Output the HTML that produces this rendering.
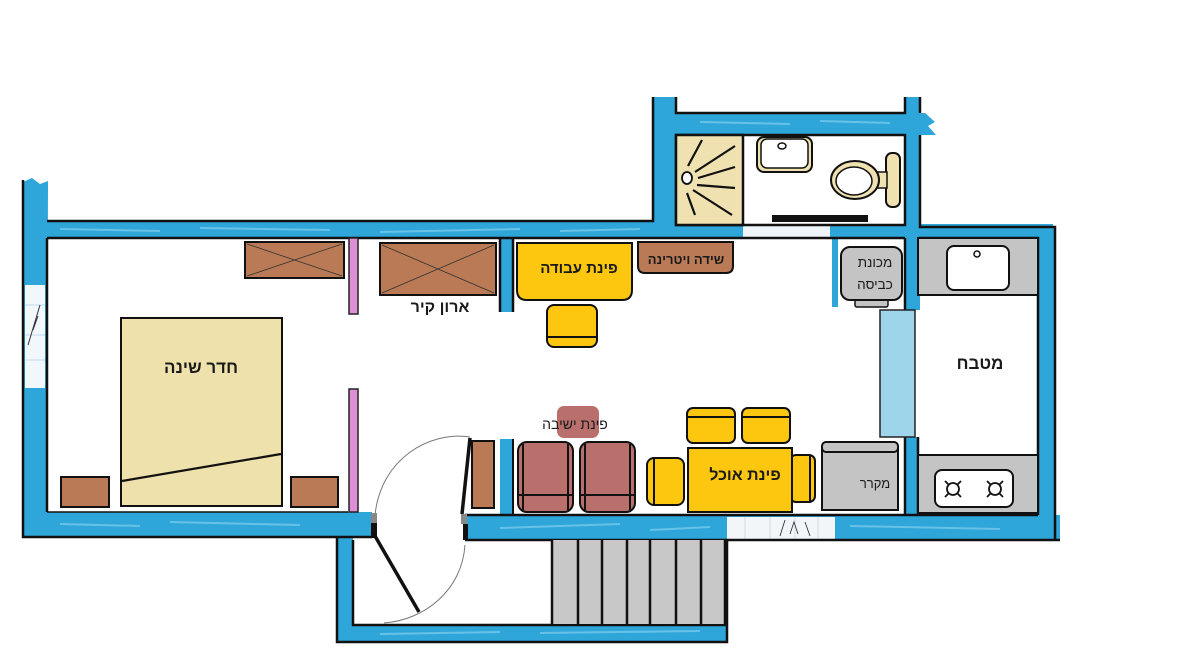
<!DOCTYPE html>
<html>
<head>
<meta charset="utf-8">
<style>
html,body{margin:0;padding:0;background:#fff;}
svg{display:block;}
text{font-family:"Liberation Sans","DejaVu Sans",sans-serif;fill:#1a1a1a;}
</style>
</head>
<body>
<svg width="1200" height="650" viewBox="0 0 1200 650" xmlns="http://www.w3.org/2000/svg">
<rect x="0" y="0" width="1200" height="650" fill="#fff"/>

<!-- ===== BLUE WALLS ===== -->
<g fill="#2ea6da">
  <path d="M23 182 L32 178 L40 184 L48 181 L47 537 L23 537 Z"/>
  <rect x="23" y="221" width="660" height="17"/>
  <rect x="655" y="224" width="398" height="14"/>
  <rect x="653" y="97" width="23" height="141"/>
  <path d="M676 113 L925 113 L935 122 L928 126 L936 135 L676 135 Z"/>
  <rect x="905" y="97" width="15" height="213"/>
  <rect x="918" y="227" width="135" height="11"/>
  <rect x="1038" y="227" width="18" height="313"/>
  <rect x="905" y="437" width="13" height="80"/>
  <rect x="23" y="512" width="349" height="25"/>
  <rect x="465" y="515" width="595" height="25"/>
  <rect x="500" y="238" width="13" height="74"/>
  <rect x="500" y="439" width="13" height="78"/>
  <rect x="832" y="238" width="6" height="69"/>
  <rect x="337" y="537" width="16" height="105"/>
  <rect x="337" y="625" width="390" height="17"/>
</g>
<!-- light streaks -->
<g stroke="#8fd3ef" stroke-width="2" opacity="0.6" fill="none">
  <path d="M60 229 L160 231 M200 228 L330 230 M380 232 L520 229 M560 231 L640 229"/>
  <path d="M700 122 L790 124 M820 121 L890 123"/>
  <path d="M60 524 L140 526 M170 522 L300 525 M500 528 L620 524 M650 530 L710 527 M850 526 L1000 529"/>
  <path d="M540 633 L700 631 M380 634 L500 632"/>
</g>

<!-- window in left wall -->
<rect x="25" y="285" width="20" height="103" fill="#f1f7fb"/>
<g stroke="#b9cfe0" stroke-width="0.8">
  <line x1="25" y1="305" x2="45" y2="305"/><line x1="25" y1="335" x2="45" y2="335"/><line x1="25" y1="360" x2="45" y2="360"/>
</g>
<path d="M28 345 L40 305 M33 330 L38 316" stroke="#334" stroke-width="1" fill="none"/>

<!-- window in bottom wall -->
<rect x="727" y="517" width="108" height="22" fill="#f3f6f8"/>
<g stroke="#c6d4de" stroke-width="0.8">
  <line x1="745" y1="517" x2="745" y2="539"/><line x1="770" y1="517" x2="770" y2="539"/><line x1="795" y1="517" x2="795" y2="539"/><line x1="818" y1="517" x2="818" y2="539"/>
</g>
<path d="M780 536 L785 520 M790 534 L794 522 L798 534 M805 522 L810 536" stroke="#334" stroke-width="0.9" fill="none"/>

<!-- bathroom door opening in top wall -->
<rect x="743" y="226" width="87" height="11" fill="#eef4f8"/>

<!-- ===== BLACK WALL LINES ===== -->
<g stroke="#111" stroke-width="2.5" fill="none">
  <path d="M23 180 L23 537 L372 537"/>
  <path d="M47 238 L47 512"/>
  <path d="M47 512 L348 512" stroke-width="1.5"/>
  <path d="M47 221 L653 221 L653 97"/>
  <path d="M47 238 L905 238"/>
  <path d="M918 238 L1038 238 L1038 515"/>
  <path d="M676 97 L676 113 L905 113 L905 97"/>
  <path d="M920 97 L920 113"/>
  <path d="M676 225 L676 135 L905 135 L905 225 Z"/>
  <path d="M920 135 L920 227 L1055 227 L1055 540"/>
  <path d="M465 515 L1038 515"/>
  <path d="M465 540 L1060 540"/>
  <path d="M465 515 L465 540"/>
  <path d="M337 537 L337 642 L727 642 L727 540"/>
  <path d="M353 540 L353 625 L727 625"/>
  <path d="M513 238 L513 312 M500 312 L500 238"/>
  <path d="M513 439 L513 515" stroke-width="2"/>
  <path d="M905 437 L905 515 M918 437 L918 515"/>
  <path d="M905 238 L905 310"/>
</g>

<!-- ===== PINK PARTITIONS ===== -->
<rect x="349" y="238" width="9" height="76" fill="#df8fd6" stroke="#222" stroke-width="1.5"/>
<rect x="349" y="389" width="9" height="123" fill="#df8fd6" stroke="#222" stroke-width="1.5"/>

<!-- ===== BATHROOM ===== -->
<rect x="676" y="135" width="67" height="90" fill="#efe2b0" stroke="#111" stroke-width="2.5"/>
<ellipse cx="687" cy="178" rx="5" ry="6" fill="#fff" stroke="#111" stroke-width="1.8"/>
<g stroke="#111" stroke-width="2.2">
  <line x1="688" y1="166" x2="702" y2="140"/>
  <line x1="695" y1="172" x2="735" y2="146"/>
  <line x1="698" y1="178" x2="735" y2="167"/>
  <line x1="697" y1="185" x2="735" y2="188"/>
  <line x1="693" y1="190" x2="732" y2="215"/>
  <line x1="687" y1="193" x2="695" y2="215"/>
</g>
<rect x="757" y="137" width="55" height="35" rx="7" fill="#efe2b0" stroke="#111" stroke-width="2"/>
<rect x="761" y="139" width="47" height="29" rx="6" fill="#fff" stroke="#111" stroke-width="1.5"/>
<ellipse cx="782" cy="146" rx="4" ry="3" fill="#fff" stroke="#111" stroke-width="1.5"/>
<rect x="886" y="153" width="14" height="54" rx="6" fill="#efe2b0" stroke="#111" stroke-width="2"/>
<rect x="877" y="172" width="10" height="16" fill="#efe2b0" stroke="#111" stroke-width="1.5"/>
<ellipse cx="855" cy="180" rx="24" ry="19" fill="#efe2b0" stroke="#111" stroke-width="2"/>
<ellipse cx="854" cy="181" rx="18" ry="14" fill="#fff" stroke="#111" stroke-width="1.5"/>
<rect x="772" y="215" width="96" height="7" fill="#111"/>

<!-- ===== BEDROOM ===== -->
<rect x="245" y="242" width="99" height="36" fill="#b97a55" stroke="#111" stroke-width="2"/>
<path d="M247 244 L342 276 M247 276 L342 244" stroke="#333" stroke-width="0.8"/>
<rect x="121" y="318" width="161" height="188" fill="#efe1ab" stroke="#111" stroke-width="2"/>
<line x1="122" y1="481" x2="281" y2="454" stroke="#111" stroke-width="2.2"/>
<text x="201" y="373" font-size="17" font-weight="bold" text-anchor="middle">חדר שינה</text>
<rect x="61" y="477" width="48" height="30" fill="#b97a55" stroke="#111" stroke-width="2"/>
<rect x="291" y="477" width="47" height="30" fill="#b97a55" stroke="#111" stroke-width="2"/>

<!-- ===== LIVING: wardrobe ===== -->
<rect x="380" y="243" width="116" height="52" fill="#b97a55" stroke="#111" stroke-width="2"/>
<path d="M382 245 L494 293 M382 293 L494 245" stroke="#333" stroke-width="0.8"/>
<text x="440" y="312" font-size="16" font-weight="bold" text-anchor="middle">ארון קיר</text>

<path d="M517 243 L632 243 L632 290 Q632 300 622 300 L527 300 Q517 300 517 290 Z" fill="#fdc60f" stroke="#111" stroke-width="2"/>
<text x="579" y="273" font-size="15" font-weight="bold" text-anchor="middle">פינת עבודה</text>
<rect x="547" y="305" width="50" height="42" rx="7" fill="#fdc60f" stroke="#111" stroke-width="2"/>
<line x1="548" y1="337" x2="596" y2="337" stroke="#111" stroke-width="2"/>

<path d="M638 242 L733 242 L733 266 Q733 273 726 273 L645 273 Q638 273 638 266 Z" fill="#b97a55" stroke="#111" stroke-width="2"/>
<text x="686" y="264" font-size="13" font-weight="bold" text-anchor="middle">שידה ויטרינה</text>

<rect x="855" y="299" width="33" height="8" rx="2" fill="#c4c4c4" stroke="#111" stroke-width="1.5"/>
<rect x="841" y="247" width="61" height="53" rx="9" fill="#c4c4c4" stroke="#111" stroke-width="2"/>
<text x="875" y="267" font-size="13.5" text-anchor="middle">מכונת</text>
<text x="875" y="289" font-size="13.5" text-anchor="middle">כביסה</text>

<!-- ===== KITCHEN ===== -->
<rect x="918" y="238" width="120" height="57" fill="#c4c4c4" stroke="#111" stroke-width="2"/>
<rect x="947" y="246" width="62" height="44" rx="7" fill="#fff" stroke="#111" stroke-width="2"/>
<circle cx="977" cy="254" r="3" fill="#fff" stroke="#111" stroke-width="1.5"/>
<rect x="880" y="310" width="35" height="127" fill="#9fd5ea" stroke="#222" stroke-width="1.5"/>
<text x="980" y="369" font-size="17" font-weight="bold" text-anchor="middle">מטבח</text>
<rect x="918" y="455" width="120" height="58" fill="#c4c4c4" stroke="#111" stroke-width="2"/>
<rect x="935" y="470" width="78" height="37" rx="7" fill="#fff" stroke="#111" stroke-width="2"/>
<g stroke="#111" stroke-width="1.8" fill="none">
  <circle cx="953" cy="489" r="6"/>
  <path d="M945 481 L949 485 M961 481 L957 485 M945 497 L949 493 M961 497 L957 493"/>
  <circle cx="995" cy="489" r="6"/>
  <path d="M987 481 L991 485 M1003 481 L999 485 M987 497 L991 493 M1003 497 L999 493"/>
</g>

<rect x="822" y="448" width="76" height="62" fill="#c4c4c4" stroke="#111" stroke-width="2"/>
<rect x="822" y="442" width="76" height="10" rx="4" fill="#c4c4c4" stroke="#111" stroke-width="2"/>
<text x="875" y="488" font-size="13" text-anchor="middle">מקרר</text>

<!-- ===== SITTING AREA ===== -->
<rect x="557" y="406" width="42" height="32" rx="7" fill="#b96f6c"/>
<text x="575" y="429" font-size="14" text-anchor="middle">פינת ישיבה</text>
<rect x="518" y="442" width="55" height="70" rx="9" fill="#b96f6c" stroke="#111" stroke-width="2"/>
<path d="M523 444 L523 510 M568 444 L568 510 M519 495 L572 495" stroke="#111" stroke-width="2"/>
<rect x="580" y="442" width="55" height="70" rx="9" fill="#b96f6c" stroke="#111" stroke-width="2"/>
<path d="M585 444 L585 510 M630 444 L630 510 M581 495 L634 495" stroke="#111" stroke-width="2"/>

<rect x="472" y="441" width="22" height="67" fill="#b97a55" stroke="#111" stroke-width="2"/>

<!-- ===== DINING ===== -->
<rect x="687" y="408" width="48" height="35" rx="6" fill="#fdc60f" stroke="#111" stroke-width="2"/>
<line x1="688" y1="417" x2="734" y2="417" stroke="#111" stroke-width="2"/>
<rect x="742" y="408" width="48" height="35" rx="6" fill="#fdc60f" stroke="#111" stroke-width="2"/>
<line x1="743" y1="417" x2="789" y2="417" stroke="#111" stroke-width="2"/>
<rect x="647" y="458" width="37" height="47" rx="7" fill="#fdc60f" stroke="#111" stroke-width="2"/>
<line x1="654" y1="459" x2="654" y2="504" stroke="#111" stroke-width="2"/>
<rect x="790" y="455" width="25" height="47" rx="6" fill="#fdc60f" stroke="#111" stroke-width="2"/>
<line x1="810" y1="456" x2="810" y2="501" stroke="#111" stroke-width="2"/>
<rect x="688" y="448" width="104" height="64" fill="#fdc60f" stroke="#111" stroke-width="2"/>
<text x="745" y="480" font-size="16" font-weight="bold" text-anchor="middle">פינת אוכל</text>

<!-- ===== DOOR ===== -->
<path d="M470 437 C430 431 381 458 375 515" stroke="#777" stroke-width="1" fill="none"/>
<path d="M384 623 C425 620 462 590 465 545" stroke="#777" stroke-width="1" fill="none"/>
<rect x="371" y="513" width="6" height="10" fill="#888"/>
<rect x="371" y="523" width="6" height="15" fill="#111"/>
<line x1="375" y1="536" x2="419" y2="612" stroke="#111" stroke-width="3.5"/>
<line x1="470" y1="438" x2="462" y2="514" stroke="#111" stroke-width="3.5"/>
<rect x="461" y="514" width="6" height="10" fill="#888"/>
<rect x="463" y="524" width="5" height="16" fill="#111"/>

<!-- ===== STAIRS ===== -->
<rect x="552" y="540" width="174" height="84" fill="#c8c8c8"/>
<g stroke="#111" stroke-width="2.5">
  <line x1="552" y1="540" x2="552" y2="624"/>
  <line x1="578" y1="540" x2="578" y2="624"/>
  <line x1="602" y1="540" x2="602" y2="624"/>
  <line x1="627" y1="540" x2="627" y2="624"/>
  <line x1="650" y1="540" x2="650" y2="624"/>
  <line x1="676" y1="540" x2="676" y2="624"/>
  <line x1="701" y1="540" x2="701" y2="624"/>
  <line x1="725" y1="540" x2="725" y2="624"/>
</g>
</svg>
</body>
</html>
